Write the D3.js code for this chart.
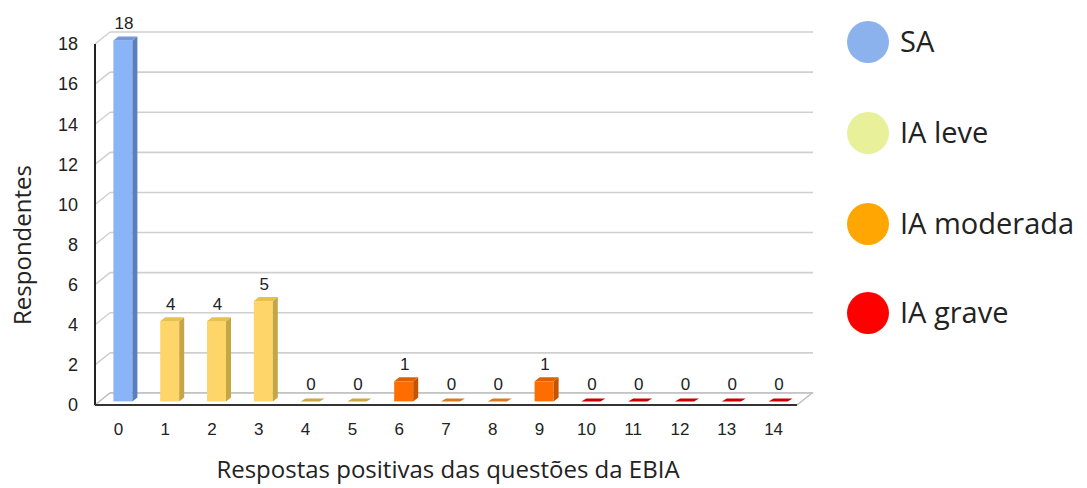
<!DOCTYPE html>
<html>
<head>
<meta charset="utf-8">
<script src="https://cdn.jsdelivr.net/npm/d3@7"></script>
<style>
  body { margin: 0; background: #fff; }
  svg { display: block; }
</style>
</head>
<body>
<div id="chart"></div>
<script>
// chart data
const categories = ["0","1","2","3","4","5","6","7","8","9","10","11","12","13","14"];
const values = [18, 4, 4, 5, 0, 0, 1, 0, 0, 1, 0, 0, 0, 0, 0];
const groups = ["SA", "IA leve", "IA leve", "IA leve", "IA leve", "IA leve",
  "IA moderada", "IA moderada", "IA moderada", "IA moderada",
  "IA grave", "IA grave", "IA grave", "IA grave", "IA grave"];
const yTicks = [0, 2, 4, 6, 8, 10, 12, 14, 16, 18];
const legendLabels = ["SA", "IA leve", "IA moderada", "IA grave"];
const legendColors = ["#8cb2ee", "#e8f09a", "#ffa602", "#ff0000"];

// bar colours per group: front, side, top, flat
const barColors = {
  "SA":          { front: "#8ab4f8", side: "#5a7ec0", top: "#7399dc", flat: "#7399dc" },
  "IA leve":     { front: "#fdd568", side: "#c6a544", top: "#e8c050", flat: "#c9a845" },
  "IA moderada": { front: "#ff6d01", side: "#c45400", top: "#e06000", flat: "#d9781e" },
  "IA grave":    { front: "#d10000", side: "#a00000", top: "#c00000", flat: "#c80000" }
};

const width = 1087, height = 488;
const depthX = 15, depthY = -12;   // 3d depth of the back wall
const barDepth = 0.3;              // where the bars sit in the depth
const barW = 19, barSideX = 5, barSideY = -4;

const svg = d3.select("#chart").append("svg")
  .attr("width", width).attr("height", height);

const x = d3.scaleBand().domain(categories).range([95, 797]);
const y = d3.scaleLinear().domain([0, 18]).range([405, 44]);

// gridlines on the back wall + diagonals to the front axis
const grid = svg.append("g");
yTicks.forEach(t => {
  grid.append("line")
    .attr("x1", 95 + depthX).attr("x2", 797 + depthX + 1)
    .attr("y1", y(t) + depthY).attr("y2", y(t) + depthY)
    .attr("stroke", "#cfcfcf").attr("stroke-width", 1.6);
  grid.append("line")
    .attr("x1", 95).attr("x2", 95 + depthX)
    .attr("y1", y(t)).attr("y2", y(t) + depthY)
    .attr("stroke", "#cfcfcf").attr("stroke-width", 1.4);
});

// floor
const fy = y(0);
svg.append("path")
  .attr("d", `M95,${fy} L797,${fy} L${797 + depthX},${fy + depthY} L${95 + depthX},${fy + depthY} Z`)
  .attr("fill", "#fff").attr("stroke", "#bdbdbd").attr("stroke-width", 1.4);

// axis lines
svg.append("line").attr("x1", 95).attr("x2", 95).attr("y1", y(18)).attr("y2", fy)
  .attr("stroke", "#222").attr("stroke-width", 2);
svg.append("line").attr("x1", 95).attr("x2", 797).attr("y1", fy).attr("y2", fy)
  .attr("stroke", "#333").attr("stroke-width", 2);

// bars
const bars = svg.append("g");
categories.forEach((c, i) => {
  const col = barColors[groups[i]];
  const x0 = x(c) + x.bandwidth() / 2 - barW / 2 + depthX * barDepth;
  const yb = fy + depthY * barDepth;
  const yt = yb - (y(0) - y(values[i]));
  if (values[i] > 0) {
    bars.append("rect").attr("x", x0).attr("y", yt).attr("width", barW).attr("height", yb - yt)
      .attr("fill", col.front);
    bars.append("path")
      .attr("d", `M${x0 + barW},${yb} L${x0 + barW + barSideX},${yb + barSideY} L${x0 + barW + barSideX},${yt + barSideY} L${x0 + barW},${yt} Z`)
      .attr("fill", col.side);
    bars.append("path")
      .attr("d", `M${x0},${yt} L${x0 + barW},${yt} L${x0 + barW + barSideX},${yt + barSideY} L${x0 + barSideX},${yt + barSideY} Z`)
      .attr("fill", col.top);
  } else {
    bars.append("path")
      .attr("d", `M${x0},${yb} L${x0 + barW},${yb} L${x0 + barW + barSideX},${yb + barSideY + 1} L${x0 + barSideX},${yb + barSideY + 1} Z`)
      .attr("fill", col.flat);
  }
  bars.append("text")
    .attr("x", x0 + barW / 2 + 1).attr("y", yt - 11)
    .attr("text-anchor", "middle")
    .attr("font-family", "Liberation Sans, Arial, sans-serif")
    .attr("font-size", "17px").attr("fill", "#222")
    .text(values[i]);
});

// tick labels
svg.append("g").selectAll("text").data(yTicks).join("text")
  .attr("x", 78).attr("y", d => y(d)).attr("dy", "0.35em")
  .attr("text-anchor", "end")
  .attr("font-family", "Liberation Sans, Arial, sans-serif")
  .attr("font-size", "18px").attr("fill", "#222")
  .text(d => d);

svg.append("g").selectAll("text").data(categories).join("text")
  .attr("x", d => x(d) + x.bandwidth() / 2).attr("y", 429).attr("dy", "0.35em")
  .attr("text-anchor", "middle")
  .attr("font-family", "Liberation Sans, Arial, sans-serif")
  .attr("font-size", "17px").attr("fill", "#222")
  .text(d => d);

// axis titles
svg.append("text")
  .attr("transform", "translate(31,245) rotate(-90)")
  .attr("text-anchor", "middle")
  .attr("font-family", "Open Sans, sans-serif")
  .attr("font-size", "24px").attr("fill", "#222")
  .text("Respondentes");

svg.append("text")
  .attr("x", 448).attr("y", 478)
  .attr("text-anchor", "middle")
  .attr("font-family", "Open Sans, sans-serif")
  .attr("font-size", "24px").attr("fill", "#222")
  .text("Respostas positivas das questões da EBIA");

// legend
const legendY = [42, 133, 224, 313];
const legend = svg.append("g");
legendLabels.forEach((l, i) => {
  legend.append("circle").attr("cx", 868).attr("cy", legendY[i]).attr("r", 21)
    .attr("fill", legendColors[i]);
  legend.append("text").attr("x", 900).attr("y", legendY[i]).attr("dy", "0.35em")
    .attr("font-family", "Open Sans, sans-serif")
    .attr("font-size", "29px").attr("fill", "#222")
    .text(l);
});
</script>
</body>
</html>
